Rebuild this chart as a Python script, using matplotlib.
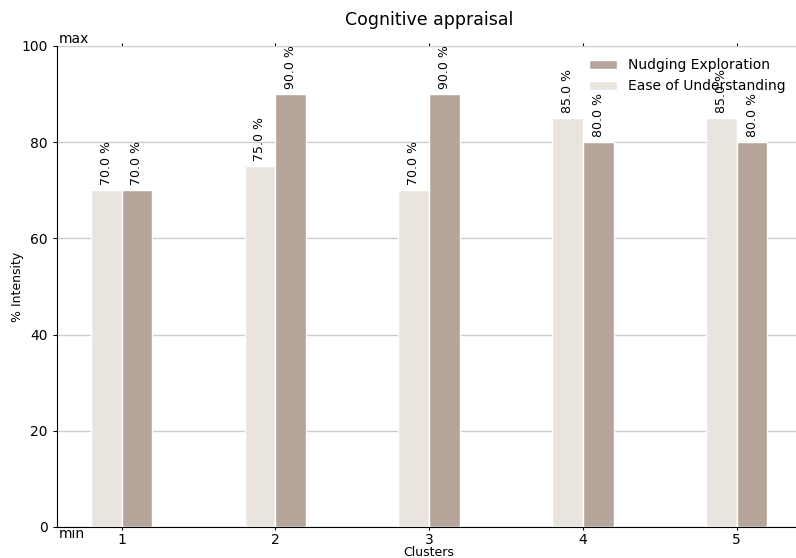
import matplotlib
matplotlib.use("Agg")
import matplotlib.pyplot as plt
import numpy as np

clusters = [1, 2, 3, 4, 5]
ease = [70, 75, 70, 85, 85]
nudging = [70, 90, 90, 80, 80]

ease_color = "#e9e4de"
nudge_color = "#b5a59a"
width = 0.2

fig = plt.figure(figsize=(7.96, 5.58), dpi=100)
ax = fig.add_axes([0.0716, 0.0556, 0.935, 0.862])

x = np.array(clusters)
b1 = ax.bar(x - width / 2, ease, width, color=ease_color, edgecolor="white",
            linewidth=1, label="Ease of Understanding", zorder=3)
b2 = ax.bar(x + width / 2, nudging, width, color=nudge_color, edgecolor="white",
            linewidth=1, label="Nudging Exploration", zorder=3)

# value labels
for bars in (b1, b2):
    for rect in bars:
        h = rect.get_height()
        ax.text(rect.get_x() + rect.get_width() / 2, h + 1.0, f"{h:.1f} %",
                rotation=90, ha="center", va="bottom", fontsize=9)

ax.set_ylim(0, 100)
ax.set_yticks([0, 20, 40, 60, 80, 100])
ax.set_xticks(clusters)
ax.yaxis.grid(True, color="#cccccc", linewidth=1, zorder=0)
ax.set_axisbelow(True)
ax.spines["top"].set_visible(False)
ax.spines["right"].set_visible(False)
ax.tick_params(axis="x", top=True, labeltop=False, length=2.5, pad=1.5)
ax.tick_params(axis="y", length=3)

xmin = ax.get_xlim()[0]
ax.text(xmin + 0.01, 100, "max", va="bottom", ha="left", fontsize=10)
ax.text(xmin + 0.01, 0, "min", va="top", ha="left", fontsize=10)

ax.set_title("Cognitive appraisal", fontsize=12.5, pad=15)
ax.set_xlabel("Clusters", fontsize=9)
ax.xaxis.set_label_coords(0.5, -0.04)
ax.set_ylabel("% Intensity", fontsize=9, labelpad=-2)

handles, labels = ax.get_legend_handles_labels()
ax.legend(handles[::-1], labels[::-1], loc="upper right", frameon=False,
          fontsize=10, bbox_to_anchor=(0.996, 1.0), handlelength=2.0)

fig.savefig("out.png", dpi=100)
